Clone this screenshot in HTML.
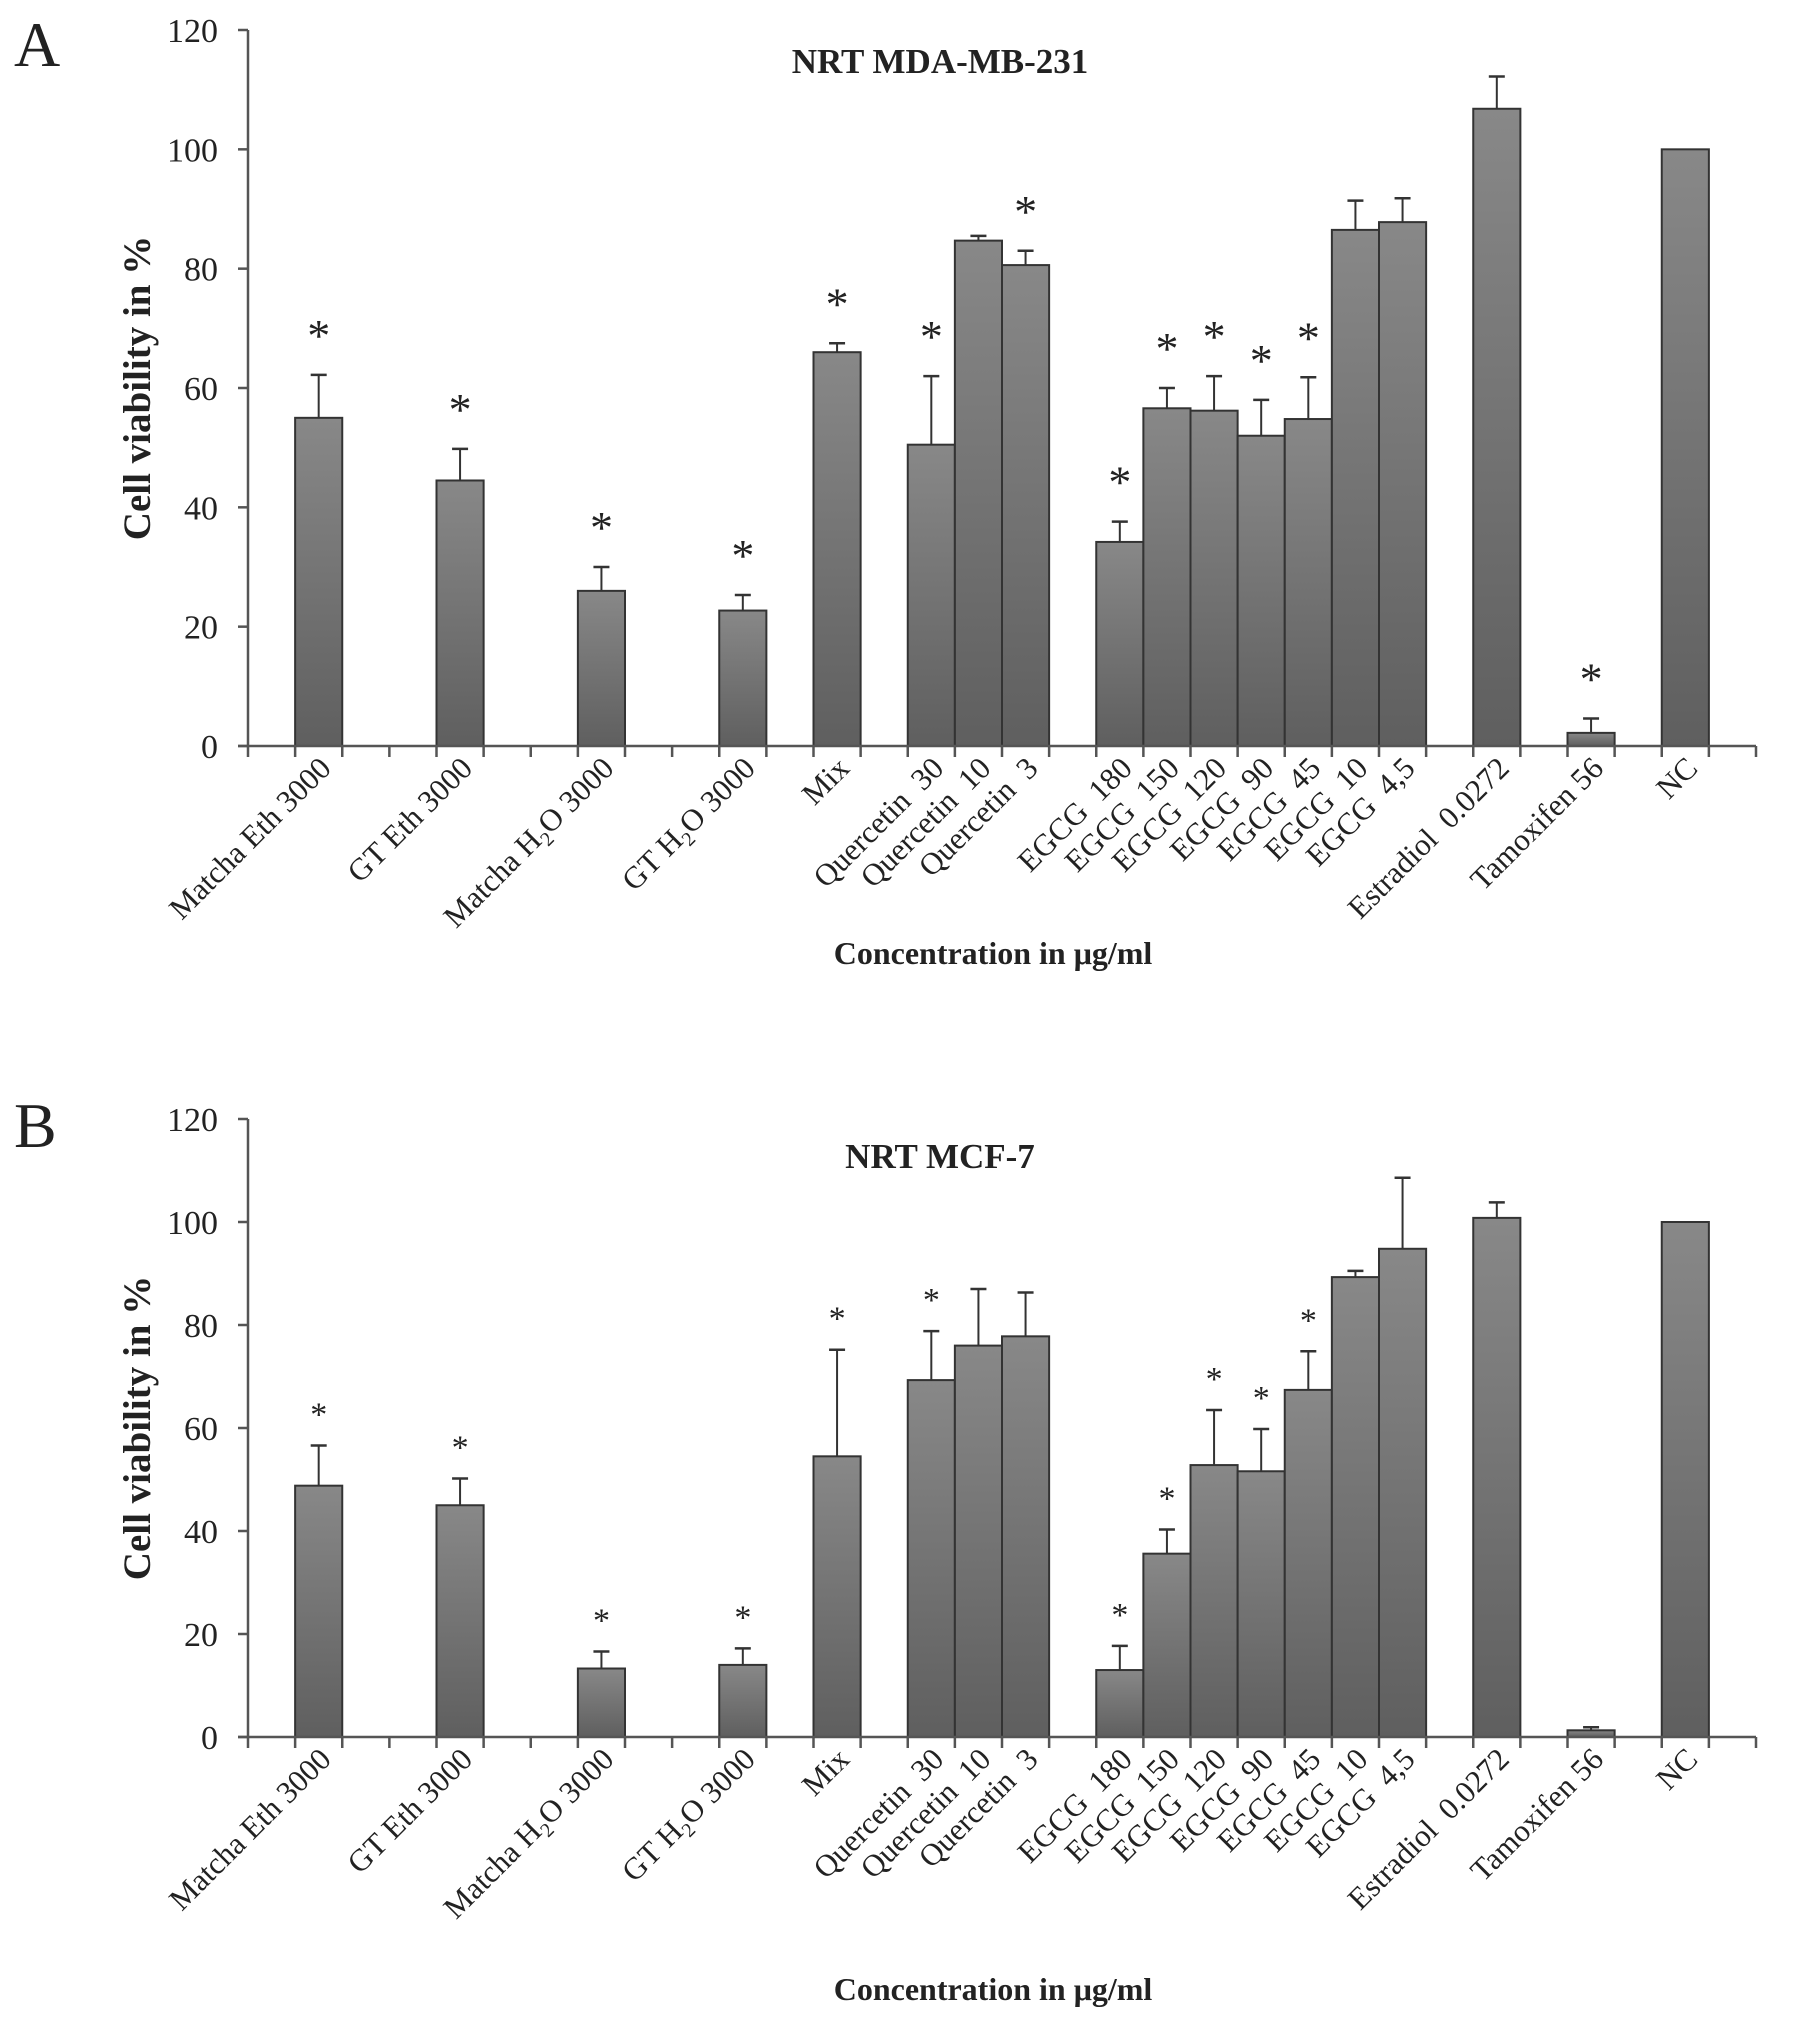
<!DOCTYPE html>
<html><head><meta charset="utf-8"><style>
html,body{margin:0;padding:0;background:#fff;}
svg text{font-family:"Liberation Serif",serif;fill:#222;white-space:pre;}
</style></head><body>
<svg id="fig" width="1795" height="2014" viewBox="0 0 1795 2014" xmlns="http://www.w3.org/2000/svg">
<defs><linearGradient id="bg" x1="0" y1="0" x2="0" y2="1"><stop offset="0" stop-color="#888"/><stop offset="1" stop-color="#5f5f5f"/></linearGradient></defs>
</svg>
<script>
const categories = ["Matcha Eth 3000","GT Eth 3000","Matcha H2O 3000","GT H2O 3000","Mix","Quercetin  30","Quercetin  10","Quercetin  3","EGCG  180","EGCG  150","EGCG  120","EGCG  90","EGCG  45","EGCG  10","EGCG  4,5","Estradiol  0.0272","Tamoxifen 56","NC"];
const slots = [1,4,7,10,12,14,15,16,18,19,20,21,22,23,24,26,28,30];
const valuesA = [55,44.5,26,22.7,66,50.5,84.7,80.6,34.2,56.6,56.2,52,54.8,86.5,87.8,106.8,2.2,100];
const errTopA = [62.2,49.8,30,25.3,67.5,62,85.5,83,37.6,60,62,58,61.8,91.4,91.8,112.2,4.6,100];
const starsA = [1,1,1,1,1,1,0,1,1,1,1,1,1,0,0,0,1,0];
const valuesB = [48.8,45,13.3,14,54.5,69.3,76,77.8,13,35.6,52.8,51.6,67.4,89.3,94.8,100.8,1.3,100];
const errTopB = [56.6,50.2,16.6,17.2,75.2,78.8,87,86.3,17.7,40.3,63.5,59.8,74.9,90.5,108.6,103.8,1.9,100];
const starsB = [1,1,1,1,1,1,0,0,1,1,1,1,1,0,0,0,0,0];
const yTicks = [0,20,40,60,80,100,120];

const NS="http://www.w3.org/2000/svg";
const svg=document.getElementById('fig');
function mk(tag,attrs,parent){const e=document.createElementNS(NS,tag);for(const k in attrs)e.setAttribute(k,attrs[k]);(parent||svg).appendChild(e);return e;}

function panel(p){
  const g=mk('g',{});
  
  
  const x0=248, slotW=47.125, nSlots=32;
  const y=v=>p.y0-(v/120)*(p.y0-p.y120);
  const xs=s=>x0+s*slotW;
  const L=mk('text',{x:14,y:p.letterY,'font-size':64},g);L.textContent=p.letter;
  
  
  const T=mk('text',{x:940,y:p.titleY,'font-size':35,'font-weight':'bold','text-anchor':'middle'},g);T.textContent=p.title;
  
  
  const ax=mk('line',{x1:x0,y1:y(120),x2:x0,y2:p.y0,stroke:'#555','stroke-width':2.5},g);
  
  
  yTicks.forEach(t=>{
    mk('line',{x1:x0-10,y1:y(t),x2:x0,y2:y(t),stroke:'#555','stroke-width':2.5},g);
    const tl=mk('text',{x:218,y:y(t)+12,'font-size':34,'text-anchor':'end',fill:'#333'},g);tl.textContent=t;
    
    
  });
  const yt=mk('text',{transform:`translate(150,${(y(60))}) rotate(-90)`,'font-size':39,'font-weight':'bold','text-anchor':'middle'},g);
  yt.textContent='Cell viability in %';
  
  
  categories.forEach((c,i)=>{
    const s=slots[i];const bx=xs(s);const v=p.values[i];
    const r=mk('rect',{x:bx,y:y(v),width:slotW,height:p.y0-y(v),fill:'url(#bg)',stroke:'#333','stroke-width':2},g);
    
    
    const cx=bx+slotW/2;
    if(p.err[i]>v){
      mk('line',{x1:cx,y1:y(v),x2:cx,y2:y(p.err[i]),stroke:'#333','stroke-width':2},g);
      const cap=mk('line',{x1:cx-8,y1:y(p.err[i]),x2:cx+8,y2:y(p.err[i]),stroke:'#333','stroke-width':2.5},g);
      
      
    }
    if(p.stars[i]){
      const st=mk('text',{x:cx,y:y(p.err[i])-p.starOff,'font-size':p.starSize,'text-anchor':'middle',fill:'#333'},g);st.textContent='*';
      
      
    }
    const lt=mk('text',{transform:`translate(${cx+14},${p.y0+24}) rotate(-45)`,'font-size':31,'text-anchor':'end',fill:'#333'},g);
    if(c.indexOf('H2O')>=0){
      const parts=c.split('H2O');
      lt.appendChild(document.createTextNode(parts[0]+'H'));
      const sub=mk('tspan',{'font-size':20,dy:7},lt);sub.textContent='2';
      const rest=mk('tspan',{dy:-7},lt);rest.textContent='O'+parts[1];
    } else lt.textContent=c;
    
    
  });
  const xa=mk('line',{x1:x0-10,y1:p.y0,x2:xs(nSlots),y2:p.y0,stroke:'#555','stroke-width':2.5},g);
  
  
  for(let s=0;s<=nSlots;s++) mk('line',{x1:xs(s),y1:p.y0,x2:xs(s),y2:p.y0+11,stroke:'#555','stroke-width':2.5},g);
  const xt=mk('text',{x:993,y:p.xTitleY,'font-size':32,'font-weight':'bold','text-anchor':'middle'},g);
  xt.textContent='Concentration in μg/ml';
  
  
}
panel({name:'panel-a',letter:'A',letterY:66,title:'NRT MDA-MB-231',titleY:73,y0:746,y120:30,values:valuesA,err:errTopA,stars:starsA,starOff:24,starSize:46,xTitleY:964});
panel({name:'panel-b',letter:'B',letterY:1147,title:'NRT MCF-7',titleY:1168,y0:1737,y120:1119,values:valuesB,err:errTopB,stars:starsB,starOff:20,starSize:34,xTitleY:2000});
</script>
</body></html>
